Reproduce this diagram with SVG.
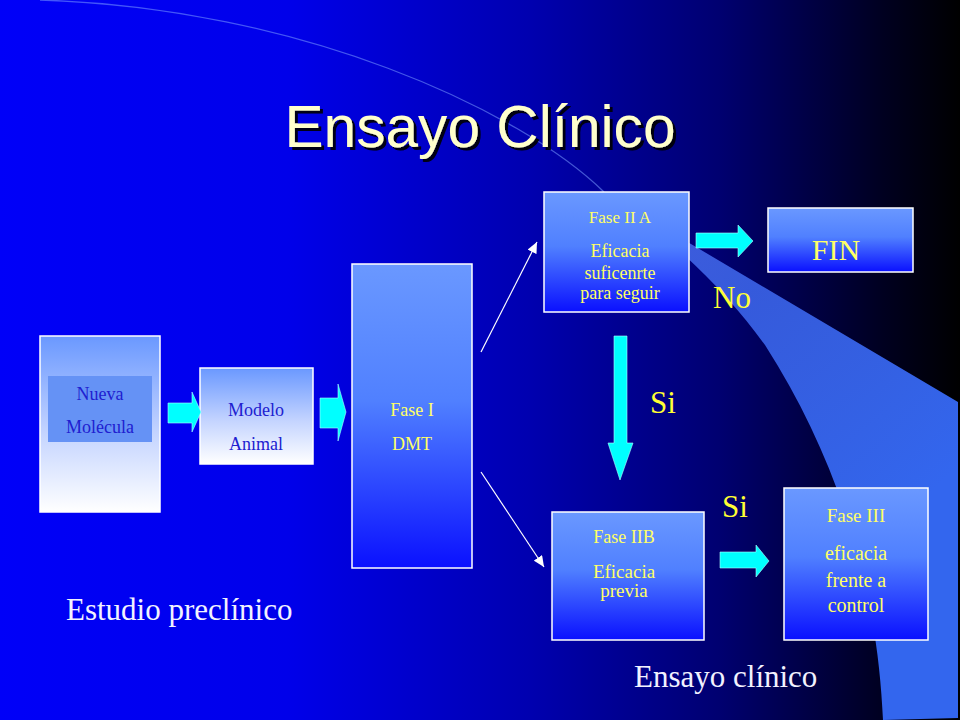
<svg xmlns="http://www.w3.org/2000/svg" width="960" height="720" viewBox="0 0 960 720">
  <defs>
    <linearGradient id="bg" x1="0" y1="0" x2="1" y2="0">
      <stop offset="0" stop-color="#0000f8"/>
      <stop offset="0.3" stop-color="#0000ea"/>
      <stop offset="0.55" stop-color="#0000b0"/>
      <stop offset="0.75" stop-color="#000070"/>
      <stop offset="0.92" stop-color="#000020"/>
      <stop offset="1" stop-color="#000000"/>
    </linearGradient>
    <linearGradient id="band" gradientUnits="userSpaceOnUse" x1="600" y1="190" x2="900" y2="520">
      <stop offset="0" stop-color="#5a80ff" stop-opacity="0.7"/>
      <stop offset="0.4" stop-color="#3a62e6" stop-opacity="0.92"/>
      <stop offset="1" stop-color="#3366ee" stop-opacity="1"/>
    </linearGradient>
    <linearGradient id="gBlue" x1="0" y1="0" x2="0" y2="1">
      <stop offset="0" stop-color="#6a98ff"/>
      <stop offset="0.45" stop-color="#5080ff"/>
      <stop offset="1" stop-color="#0a10ff"/>
    </linearGradient>
    <linearGradient id="gWhite" x1="0" y1="0" x2="0" y2="1">
      <stop offset="0" stop-color="#6a98ff"/>
      <stop offset="0.55" stop-color="#c4d4ff"/>
      <stop offset="1" stop-color="#ffffff"/>
    </linearGradient>
    <filter id="shadow" x="-10%" y="-20%" width="130%" height="150%">
      <feDropShadow dx="3" dy="3" stdDeviation="0.6" flood-color="#000000" flood-opacity="0.9"/>
    </filter>
    <marker id="tri" markerUnits="userSpaceOnUse" markerWidth="12" markerHeight="10" refX="11" refY="5" orient="auto">
      <path d="M0,0 L11,5 L0,10 Z" fill="#ffffff"/>
    </marker>
    <style>
      .box { stroke: #ffffff; stroke-width: 1.5; }
      .blue { fill: url(#gBlue); }
      .pale { fill: url(#gWhite); }
      .ty { font-family: "Liberation Serif", "Times New Roman", serif; fill: #ffff66; text-anchor: middle; }
      .tb { font-family: "Liberation Serif", "Times New Roman", serif; fill: #2020d0; text-anchor: middle; font-size: 18px; }
      .lab { font-family: "Liberation Serif", "Times New Roman", serif; fill: #ffff33; font-size: 31px; }
      .cap { font-family: "Liberation Serif", "Times New Roman", serif; fill: #f2f2ff; font-size: 31px; }
      .blk { fill: #00ffff; stroke: #b0ffff; stroke-width: 0.6; }
      .thin { stroke: #ffffff; stroke-width: 1.2; fill: none; marker-end: url(#tri); }
    </style>
  </defs>

  <rect x="0" y="0" width="960" height="720" fill="url(#bg)"/>
  <path d="M 40 0 C 300 8, 520 110, 604 192" fill="none" stroke="#7a9cff" stroke-opacity="0.55" stroke-width="1.3"/>
  <path d="M 598 189 L 958 402 L 958 718 L 883 720 C 878 600, 845 470, 765 345 C 725 290, 670 235, 598 189 Z" fill="url(#band)"/>

  <text x="480" y="147" font-family="Liberation Sans, Arial, sans-serif" font-size="60" fill="#ffffcc" text-anchor="middle" textLength="391" lengthAdjust="spacingAndGlyphs" filter="url(#shadow)">Ensayo Clínico</text>

  <g id="nueva-molecula">
    <rect class="box pale" x="40" y="336" width="120" height="176"/>
    <rect x="48" y="376" width="104" height="66" fill="#6592f5"/>
    <text class="tb" x="100" y="400">Nueva</text>
    <text class="tb" x="100" y="433">Molécula</text>
  </g>

  <g id="modelo-animal">
    <rect class="box pale" x="200" y="368" width="113" height="96"/>
    <text class="tb" x="256" y="416">Modelo</text>
    <text class="tb" x="256" y="450">Animal</text>
  </g>

  <g id="fase-i">
    <rect class="box blue" x="352" y="264" width="120" height="304"/>
    <text class="ty" x="412" y="416" font-size="18">Fase I</text>
    <text class="ty" x="412" y="450" font-size="18">DMT</text>
  </g>

  <g id="fase-iia">
    <rect class="box blue" x="544" y="192" width="145" height="120"/>
    <text class="ty" x="620" y="223" font-size="17">Fase II A</text>
    <text class="ty" x="620" y="257" font-size="18">Eficacia</text>
    <text class="ty" x="620" y="279" font-size="18">suficenrte</text>
    <text class="ty" x="620" y="299" font-size="18">para seguir</text>
  </g>

  <g id="fin">
    <rect class="box blue" x="768" y="208" width="145" height="64"/>
    <text class="ty" x="836" y="260" font-size="30" fill="#ffff33">FIN</text>
  </g>

  <g id="fase-iib">
    <rect class="box blue" x="552" y="512" width="152" height="128"/>
    <text class="ty" x="624" y="543" font-size="18">Fase IIB</text>
    <text class="ty" x="624" y="578" font-size="19">Eficacia</text>
    <text class="ty" x="624" y="597" font-size="19">previa</text>
  </g>

  <g id="fase-iii">
    <rect class="box blue" x="784" y="488" width="144" height="152"/>
    <text class="ty" x="856" y="522" font-size="19">Fase III</text>
    <text class="ty" x="856" y="560" font-size="20">eficacia</text>
    <text class="ty" x="856" y="587" font-size="20">frente a</text>
    <text class="ty" x="856" y="612" font-size="20">control</text>
  </g>

  <g id="connectors">
    <polygon class="blk" points="168,403 192,403 192,392 201,412 192,432 192,423 168,423"/>
    <polygon class="blk" points="320,398 338,398 338,384 346,412 338,441 338,428 320,428"/>
    <polygon class="blk" points="696,233 738,233 738,225 753,241 738,257 738,248 696,248"/>
    <polygon class="blk" points="614,336 627,336 627,443 633,443 620,480 608,443 614,443"/>
    <polygon class="blk" points="720,552 756,552 756,545 769,561 756,577 756,568 720,568"/>
    <line class="thin" x1="481" y1="352" x2="537" y2="242"/>
    <line class="thin" x1="481" y1="472" x2="544" y2="567"/>
  </g>

  <g id="labels">
    <text class="lab" x="713" y="308">No</text>
    <text class="lab" x="650" y="413">Si</text>
    <text class="lab" x="722" y="517">Si</text>
    <text class="cap" x="66" y="620">Estudio preclínico</text>
    <text class="cap" x="634" y="687">Ensayo clínico</text>
  </g>
</svg>
